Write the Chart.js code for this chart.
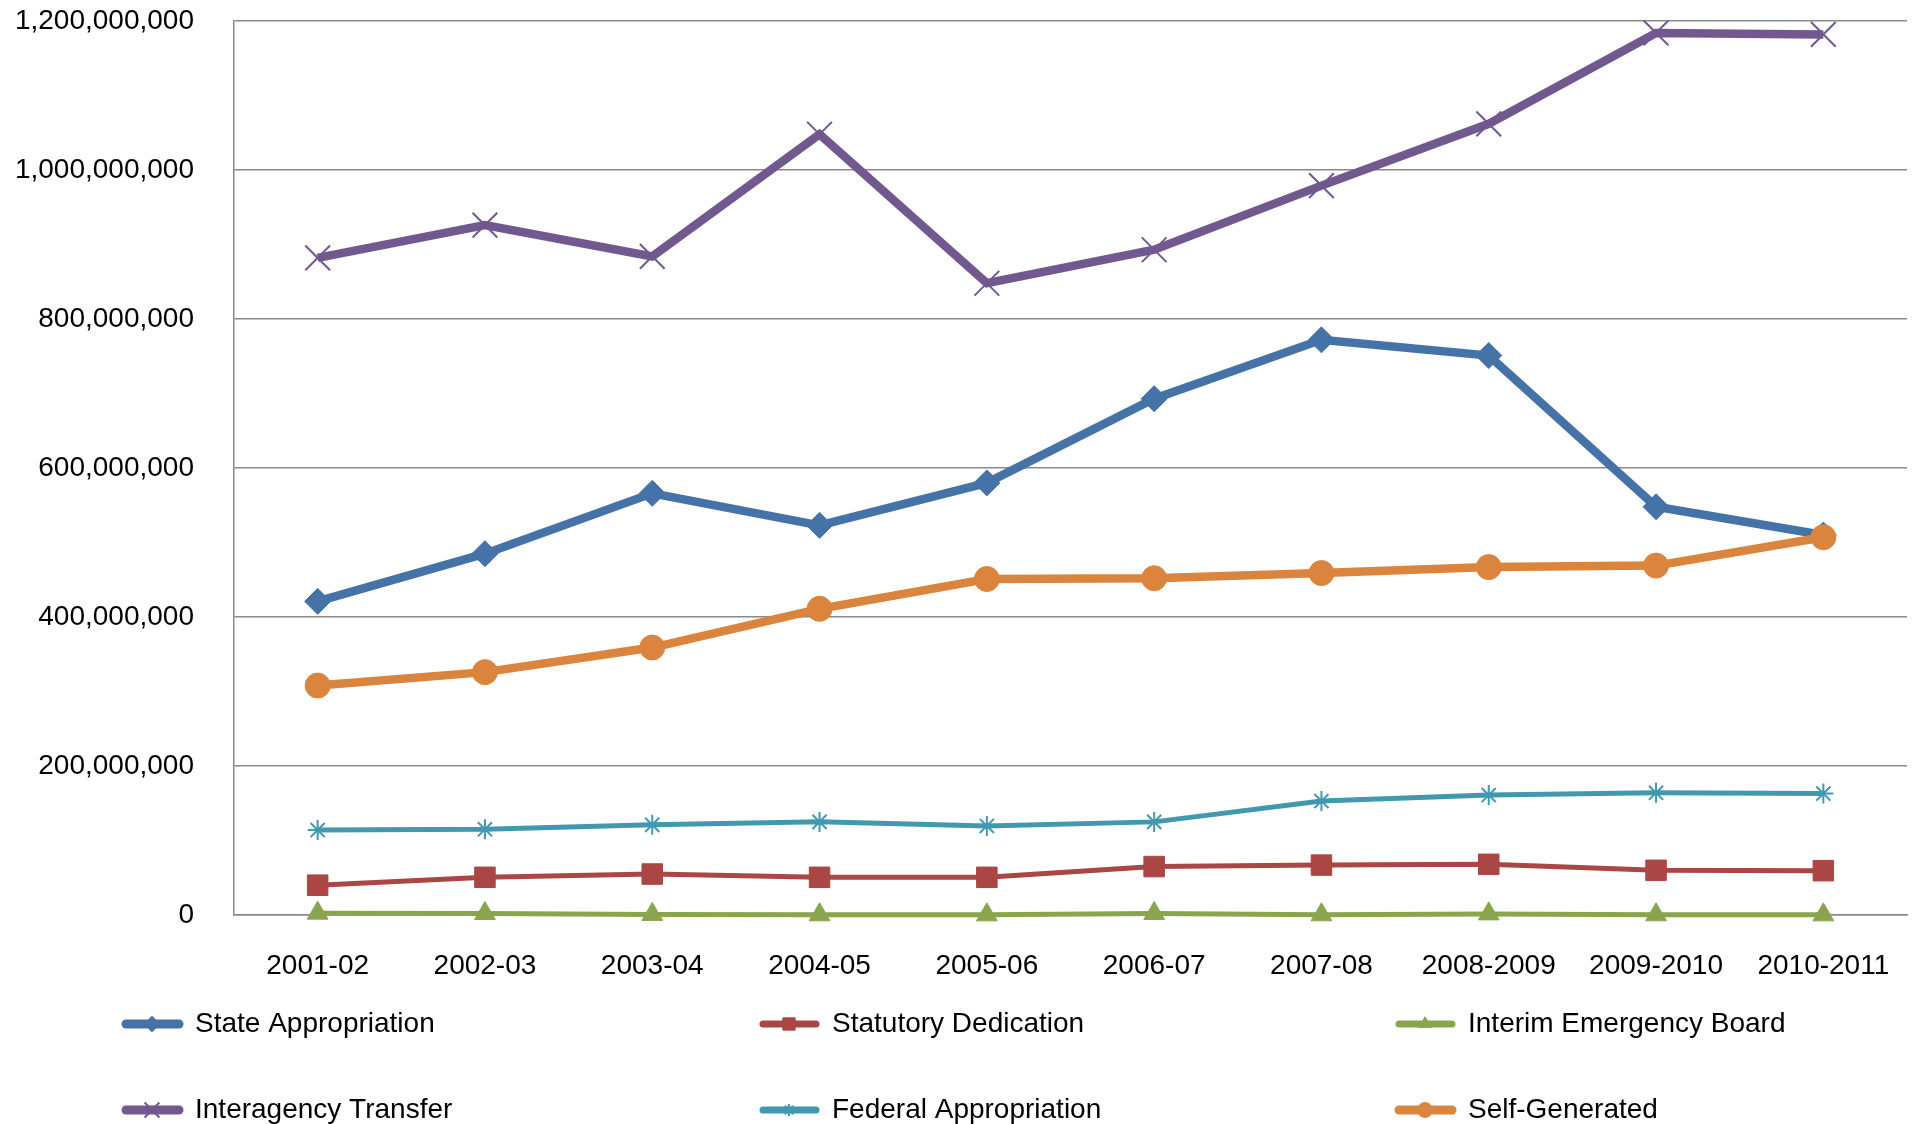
<!DOCTYPE html>
<html lang="en">
<head>
  <meta charset="UTF-8" />
  <title>Funding by Source</title>
  <script src="https://cdn.jsdelivr.net/npm/chart.js"></script>
  <style>
    body {
      margin: 0;
      padding: 0;
      background: #fff;
    }
    canvas {
      display: block;
    }
  </style>
</head>
<body>
  <canvas id="lineChart" width="1916" height="1124"></canvas>

  <script>
    const categories = ['2001-02', '2002-03', '2003-04', '2004-05', '2005-06', '2006-07', '2007-08', '2008-2009', '2009-2010', '2010-2011'];

    const stateAppropriation  = [421e6, 485e6, 566e6, 523e6, 580e6, 693e6, 772e6, 751e6, 548e6, 510e6];
    const statutoryDedication = [40e6, 50.6e6, 55e6, 50.6e6, 50.6e6, 65e6, 67e6, 68e6, 60e6, 59.5e6];
    const interimEmergency    = [2.5e6, 2e6, 0.8e6, 0.3e6, 0.2e6, 2e6, 0.3e6, 1.5e6, 0.3e6, 0.2e6];
    const interagencyTransfer = [882e6, 926e6, 884e6, 1048e6, 848e6, 893e6, 979e6, 1062e6, 1184e6, 1182e6];
    const federalAppropriation = [114e6, 115e6, 121e6, 125e6, 119.5e6, 125e6, 153e6, 161e6, 164e6, 163e6];
    const selfGenerated       = [308e6, 326e6, 359e6, 411e6, 451e6, 452e6, 459e6, 467e6, 469e6, 507e6];

    const yTicks = [0, 200e6, 400e6, 600e6, 800e6, 1000e6, 1200e6];

    const FONT = "'Liberation Sans', Arial, sans-serif";
    const GRID = '#8a8a8a';

    function series(label, data, color, style, radius, width, strokeOnly) {
      return {
        label: label,
        data: data,
        borderColor: color,
        backgroundColor: color,
        borderWidth: width,
        pointStyle: style,
        pointRadius: radius,
        pointHoverRadius: radius,
        pointBackgroundColor: color,
        pointBorderColor: color,
        pointBorderWidth: strokeOnly ? 2 : 1,
        tension: 0,
        clip: false,
        fill: false
      };
    }

    const datasets = [
      series('State Appropriation', stateAppropriation, '#4572a7', 'rectRot', 13, 8.5),
      series('Statutory Dedication', statutoryDedication, '#aa4643', 'rect', 14.5, 5),
      series('Interim Emergency Board', interimEmergency, '#89a54e', 'triangle', 12, 5),
      series('Interagency Transfer', interagencyTransfer, '#71588f', 'crossRot', 17.5, 8.5, true),
      series('Federal Appropriation', federalAppropriation, '#4198af', 'star', 10, 5, true),
      series('Self-Generated', selfGenerated, '#db843d', 'circle', 12.5, 8.5)
    ];
    // later series sit on top, like the original
    datasets.forEach((d, i) => { d.order = datasets.length - i; });

    // three-column legend under the plot
    const gridLegend = {
      id: 'gridLegend',
      afterDraw(chart) {
        const ctx = chart.ctx;
        const colX = [122, 759, 1395];
        const rowY = [1024, 1110];
        ctx.save();
        chart.data.datasets.forEach((ds, i) => {
          const x = colX[i % 3];
          const y = rowY[Math.floor(i / 3)];
          ctx.strokeStyle = ds.borderColor;
          ctx.lineWidth = ds.borderWidth > 6 ? 9 : 7;
          ctx.lineCap = 'round';
          ctx.beginPath();
          ctx.moveTo(x + 4, y);
          ctx.lineTo(x + 57, y);
          ctx.stroke();
          ctx.fillStyle = ds.borderColor;
          ctx.strokeStyle = ds.borderColor;
          ctx.lineWidth = ds.pointBorderWidth;
          ctx.lineCap = 'butt';
          Chart.helpers.drawPoint(ctx, {
            pointStyle: ds.pointStyle,
            radius: ds.pointRadius * 0.6,
            rotation: 0,
            borderWidth: ds.pointBorderWidth
          }, x + 30, y);
          ctx.fillStyle = '#000';
          ctx.font = '28px ' + FONT;
          ctx.textBaseline = 'middle';
          ctx.textAlign = 'left';
          ctx.fillText(ds.label, x + 73, y);
        });
        ctx.restore();
      }
    };

    const ctx = document.getElementById('lineChart').getContext('2d');
    new Chart(ctx, {
      type: 'line',
      data: {
        labels: categories,
        datasets: datasets
      },
      options: {
        responsive: false,
        animation: false,
        devicePixelRatio: 1,
        layout: {
          autoPadding: false,
          padding: { top: 21, right: 9, left: 0, bottom: 0 }
        },
        plugins: {
          legend: { display: false },
          tooltip: { enabled: false }
        },
        scales: {
          x: {
            offset: true,
            grid: { display: false, drawTicks: false },
            border: { display: true, color: GRID, width: 1.5 },
            ticks: {
              color: '#000',
              font: { family: FONT, size: 28 },
              padding: 34,
              maxRotation: 0,
              autoSkip: false
            },
            afterFit(scale) {
              scale.height = 209;
              scale.paddingLeft = 0;
              scale.paddingRight = 0;
            }
          },
          y: {
            min: 0,
            max: 1200e6,
            afterBuildTicks(scale) {
              scale.ticks = yTicks.map(v => ({ value: v }));
            },
            grid: { color: GRID, lineWidth: 1.5, drawTicks: false },
            border: { display: true, color: GRID, width: 1.5 },
            ticks: {
              color: '#000',
              font: { family: FONT, size: 28 },
              padding: 40,
              callback: (v) => v.toLocaleString('en-US')
            },
            afterFit(scale) {
              scale.width = 234;
              scale.paddingTop = 0;
              scale.paddingBottom = 0;
            }
          }
        }
      },
      plugins: [gridLegend]
    });
  </script>
</body>
</html>
